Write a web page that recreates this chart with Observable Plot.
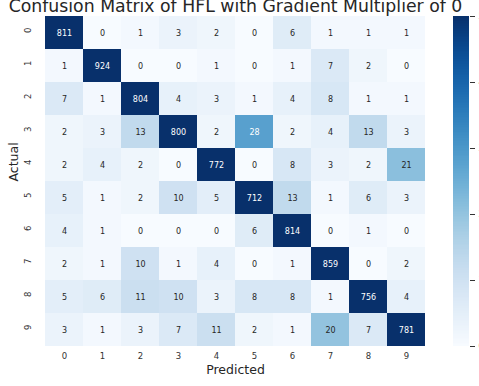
<!DOCTYPE html>
<html>
<head>
<meta charset="utf-8">
<script src="https://cdn.jsdelivr.net/npm/d3@7"></script>
<script src="https://cdn.jsdelivr.net/npm/@observablehq/plot@0.6"></script>
<style>
  html, body { margin: 0; padding: 0; background: #fff; }
  #wrap { position: relative; width: 479px; height: 386px; overflow: hidden; font-family: "DejaVu Sans", sans-serif; }
  #wrap svg { position: absolute; top: 0; overflow: visible; }
</style>
</head>
<body>
<div id="wrap"></div>
<script>
const title = "Confusion Matrix of HFL with Gradient Multiplier of 0";
const xLabel = "Predicted";
const yLabel = "Actual";
const classes = ["0", "1", "2", "3", "4", "5", "6", "7", "8", "9"];
const row0 = [811, 0, 1, 3, 2, 0, 6, 1, 1, 1];
const row1 = [1, 924, 0, 0, 1, 0, 1, 7, 2, 0];
const row2 = [7, 1, 804, 4, 3, 1, 4, 8, 1, 1];
const row3 = [2, 3, 13, 800, 2, 28, 2, 4, 13, 3];
const row4 = [2, 4, 2, 0, 772, 0, 8, 3, 2, 21];
const row5 = [5, 1, 2, 10, 5, 712, 13, 1, 6, 3];
const row6 = [4, 1, 0, 0, 0, 6, 814, 0, 1, 0];
const row7 = [2, 1, 10, 1, 4, 0, 1, 859, 0, 2];
const row8 = [5, 6, 11, 10, 3, 8, 8, 1, 756, 4];
const row9 = [3, 1, 3, 7, 11, 2, 1, 20, 7, 781];
const colorMax = 50;
const colorbarTicks = [0, 10, 20, 30, 40, 50];

const rows = [row0, row1, row2, row3, row4, row5, row6, row7, row8, row9];
const cells = [];
rows.forEach((r, i) => r.forEach((v, j) => cells.push({actual: classes[i], pred: classes[j], value: v})));

function lum(c) {
  const rgb = d3.rgb(c);
  const f = (u) => { u /= 255; return u <= 0.03928 ? u / 12.92 : Math.pow((u + 0.055) / 1.055, 2.4); };
  return 0.2126 * f(rgb.r) + 0.7152 * f(rgb.g) + 0.0722 * f(rgb.b);
}
const colorOf = (v) => d3.interpolateBlues(Math.max(0, Math.min(1, v / colorMax)));
const textColor = (d) => lum(colorOf(d.value)) > 0.408 ? "#262626" : "#ffffff";

const W = 479, H = 386;
const mL = 41, mR = 50, mT = 16, mB = 40;
const font = "DejaVu Sans, sans-serif";

const heat = Plot.plot({
  width: W, height: H,
  marginLeft: mL, marginRight: mR, marginTop: mT, marginBottom: mB,
  style: {fontFamily: font, background: "transparent"},
  x: {type: "band", domain: classes, padding: 0, axis: null},
  y: {type: "band", domain: classes, padding: 0, axis: null},
  color: {type: "linear", domain: [0, colorMax], scheme: "blues", clamp: true},
  marks: [
    Plot.cell(cells, {x: "pred", y: "actual", fill: "value", inset: 0, shapeRendering: "crispEdges"}),
    Plot.text(cells, {x: "pred", y: "actual", text: (d) => String(d.value), fill: textColor, fontSize: 8}),
    Plot.text(classes, {x: (d) => d, frameAnchor: "bottom", dy: 12, text: (d) => d, fill: "#333", fontSize: 8.5}),
    Plot.text(classes, {y: (d) => d, frameAnchor: "left", dx: -13, rotate: -90, text: (d) => d, fill: "#333", fontSize: 8.5}),
    Plot.text([xLabel], {frameAnchor: "bottom", dy: 27, text: (d) => d, fill: "#262626", fontSize: 12.5}),
    Plot.text([yLabel], {frameAnchor: "left", dx: -28, rotate: -90, text: (d) => d, fill: "#262626", fontSize: 12.5}),
    Plot.text([title], {frameAnchor: "top", dy: -4.5, lineAnchor: "bottom", text: (d) => d, fill: "#262626", fontSize: 17.3})
  ]
});
heat.style.left = "0px";

const steps = d3.range(0, colorMax, 0.25);
const cbar = Plot.plot({
  width: 40, height: H,
  marginLeft: 0, marginRight: 24, marginTop: mT, marginBottom: mB,
  style: {fontFamily: font, background: "transparent", color: "#333"},
  x: {domain: [0, 1], axis: null},
  y: {domain: [0, colorMax], axis: null},
  color: {type: "linear", domain: [0, colorMax], scheme: "blues", clamp: true},
  marks: [
    Plot.rect(steps, {x1: 0, x2: 1, y1: (d) => d, y2: (d) => d + 0.3, fill: (d) => d + 0.125, shapeRendering: "crispEdges"}),
    Plot.axisY(colorbarTicks, {anchor: "right", tickSize: 5, tickPadding: 4, fontSize: 8.5, label: null})
  ]
});
cbar.style.left = "453px";

const wrap = document.getElementById("wrap");
wrap.appendChild(heat);
wrap.appendChild(cbar);
</script>
</body>
</html>
